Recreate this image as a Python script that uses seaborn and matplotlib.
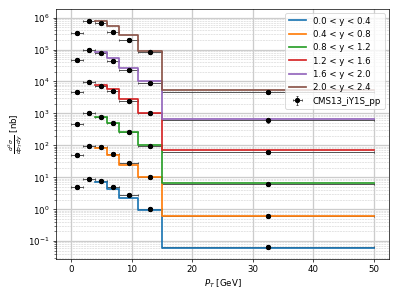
import numpy as np
import pandas as pd
import seaborn as sns
import matplotlib
matplotlib.use("Agg")
import matplotlib.pyplot as plt

# rapidity bins
labels = ["0.0 < y < 0.4", "0.4 < y < 0.8", "0.8 < y < 1.2",
          "1.2 < y < 1.6", "1.6 < y < 2.0", "2.0 < y < 2.4"]

# prediction histogram (bin edges and contents per rapidity bin)
edges = [4, 6, 8, 11, 15, 50]
pred_y00 = [6.9, 4.4, 2.3, 0.92, 0.059]
pred_y04 = [81, 49, 25, 10, 0.63]
pred_y08 = [760, 510, 260, 102, 6.6]
pred_y12 = [7.9e3, 5.8e3, 2.9e3, 1.02e3, 69]
pred_y16 = [8.1e4, 5.5e4, 2.7e4, 1.02e4, 660]
pred_y20 = [7.6e5, 5.3e5, 2.8e5, 9.2e4, 5.5e3]

# measured points
pt_center = [1, 3, 5, 7, 9.5, 13, 32.5]
pt_halfwidth = [1, 1, 1, 1, 1.5, 2, 17.5]
data_y00 = [4.9, 8.7, 7.8, 5.0, 2.85, 1.03, 0.064]
data_y04 = [50, 95, 87, 52, 27, 10.5, 0.62]
data_y08 = [450, 1000, 760, 500, 260, 98, 6.2]
data_y12 = [4.7e3, 9.8e3, 7.4e3, 5.1e3, 2.5e3, 1.0e3, 63]
data_y16 = [4.8e4, 9.4e4, 7.6e4, 4.5e4, 2.3e4, 8.7e3, 600]
data_y20 = [3.2e5, 8.0e5, 6.8e5, 3.5e5, 2.0e5, 8.1e4, 4.6e3]
rel_err = [0.1, 0.08, 0.08, 0.08, 0.08, 0.1, 0.15]

preds = [pred_y00, pred_y04, pred_y08, pred_y12, pred_y16, pred_y20]
datas = [data_y00, data_y04, data_y08, data_y12, data_y16, data_y20]

rows = []
for lab, p in zip(labels, preds):
    vals = p + [p[-1]]  # repeat last value so steps-post reaches the last edge
    for x, v in zip(edges, vals):
        rows.append({"pt": x, "xsec": v, "bin": lab})
df = pd.DataFrame(rows)

fig, ax = plt.subplots(figsize=(6.4, 4.8), dpi=399 / 6.4)

sns.lineplot(data=df, x="pt", y="xsec", hue="bin", palette="tab10",
             estimator=None, sort=False, drawstyle="steps-post",
             linewidth=2, ax=ax, zorder=2)

for i, d in enumerate(datas):
    d = np.array(d)
    # error bars under the prediction lines, dots on top
    ax.errorbar(pt_center, d, xerr=pt_halfwidth, yerr=d * np.array(rel_err),
                fmt="o", color="k", ecolor="0.25", ms=5, elinewidth=1,
                capsize=1.5, zorder=1.5,
                label="CMS13_iY1S_pp" if i == 0 else None)
    ax.plot(pt_center, d, "o", color="k", ms=5, zorder=3)

ax.set_yscale("log")
ax.set_xlim(-2.5, 52.5)
ax.set_ylim(10 ** -1.56, 10 ** 6.28)
ax.grid(which="major", color="0.8", linewidth=1.5)
ax.grid(which="minor", axis="y", color="0.8", linestyle="--", linewidth=0.6)
ax.set_axisbelow(True)

ax.set_xlabel(r"$P_T$ [GeV]")
ax.set_ylabel(r"$\frac{d^2\sigma}{dp_T dy}$ [nb]")

handles, labs = ax.get_legend_handles_labels()
ax.legend(handles, labs, loc="upper right")

plt.subplots_adjust(left=0.14, right=0.975, top=0.97, bottom=0.134)
plt.savefig("out.png", dpi=399 / 6.4)
